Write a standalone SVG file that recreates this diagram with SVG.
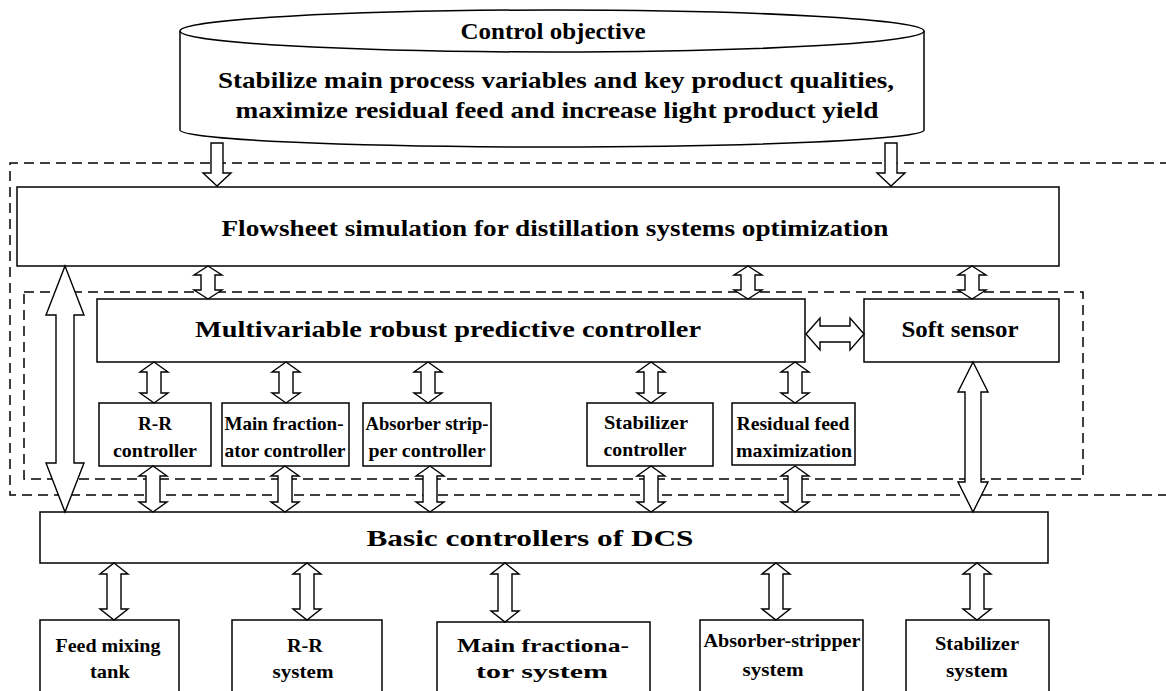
<svg xmlns="http://www.w3.org/2000/svg" width="1166" height="691" viewBox="0 0 1166 691">
<style>
  .box { fill: #fff; stroke: #000; stroke-width: 1.5; }
  .dash { fill: none; stroke: #000; stroke-width: 1.5; stroke-dasharray: 10 6; }
  .arr { fill: #fff; stroke: #000; stroke-width: 1.4; stroke-linejoin: miter; }
  .t { font-family: "Liberation Serif", "Times New Roman", serif; font-weight: bold; fill: #000; text-anchor: middle; }
  .big { font-size: 24px; }
  .sm { font-size: 19px; }
</style>
<rect width="1166" height="691" fill="#fff"/>

<g id="frames">
  <path class="dash" d="M1170,163 L10,163 L10,495 L1170,495"/>
  <rect class="dash" x="24" y="292" width="1059" height="187"/>
</g>

<g id="objective">
  <path class="box" d="M180,31 L180,130 A372,17 0 0 0 924,130 L924,31" stroke-width="3"/>
  <ellipse class="box" cx="552" cy="31" rx="372" ry="21" stroke-width="3"/>
  <text class="t big" x="553" y="39" textLength="185" lengthAdjust="spacingAndGlyphs">Control objective</text>
  <text class="t big" x="556" y="88" textLength="676" lengthAdjust="spacingAndGlyphs">Stabilize main process variables and key product qualities,</text>
  <text class="t big" x="557" y="118" textLength="643" lengthAdjust="spacingAndGlyphs">maximize residual feed and increase light product yield</text>
</g>

<g id="flowsheet">
  <rect class="box" x="17" y="187" width="1042" height="79"/>
  <text class="t big" x="555" y="236" textLength="667" lengthAdjust="spacingAndGlyphs">Flowsheet simulation for distillation systems optimization</text>
</g>

<g id="mpc">
  <rect class="box" x="97" y="299" width="708" height="63"/>
  <text class="t big" x="448" y="337" textLength="506" lengthAdjust="spacingAndGlyphs">Multivariable robust predictive controller</text>
</g>

<g id="softsensor">
  <rect class="box" x="864" y="299" width="195" height="63"/>
  <text class="t big" x="960" y="337" textLength="117" lengthAdjust="spacingAndGlyphs">Soft sensor</text>
</g>

<g id="rr-controller">
  <rect class="box" x="99" y="403" width="112" height="63"/>
  <text class="t sm" x="155" y="430" textLength="34" lengthAdjust="spacingAndGlyphs">R-R</text>
  <text class="t sm" x="155" y="457" textLength="84" lengthAdjust="spacingAndGlyphs">controller</text>
</g>
<g id="mf-controller">
  <rect class="box" x="222" y="403" width="127" height="63"/>
  <text class="t sm" x="284" y="430" textLength="119" lengthAdjust="spacingAndGlyphs">Main fraction-</text>
  <text class="t sm" x="285" y="457" textLength="121" lengthAdjust="spacingAndGlyphs">ator controller</text>
</g>
<g id="as-controller">
  <rect class="box" x="363" y="403" width="128" height="63"/>
  <text class="t sm" x="427" y="430" textLength="123" lengthAdjust="spacingAndGlyphs">Absorber strip-</text>
  <text class="t sm" x="427" y="457" textLength="117" lengthAdjust="spacingAndGlyphs">per controller</text>
</g>
<g id="stab-controller">
  <rect class="box" x="587" y="403" width="126" height="63"/>
  <text class="t sm" x="646" y="429" textLength="84" lengthAdjust="spacingAndGlyphs">Stabilizer</text>
  <text class="t sm" x="645" y="456" textLength="83" lengthAdjust="spacingAndGlyphs">controller</text>
</g>
<g id="residual">
  <rect class="box" x="732" y="403" width="123" height="62"/>
  <text class="t sm" x="793" y="430" textLength="113" lengthAdjust="spacingAndGlyphs">Residual feed</text>
  <text class="t sm" x="794" y="457" textLength="116" lengthAdjust="spacingAndGlyphs">maximization</text>
</g>

<g id="dcs">
  <rect class="box" x="40" y="512" width="1008" height="51"/>
  <text class="t big" x="530" y="546" textLength="327" lengthAdjust="spacingAndGlyphs">Basic controllers of DCS</text>
</g>

<g id="feed-tank">
  <rect class="box" x="40" y="620" width="139" height="80"/>
  <text class="t sm" x="108" y="652" textLength="105" lengthAdjust="spacingAndGlyphs">Feed mixing</text>
  <text class="t sm" x="110" y="678" textLength="40" lengthAdjust="spacingAndGlyphs">tank</text>
</g>
<g id="rr-system">
  <rect class="box" x="232" y="620" width="150" height="80"/>
  <text class="t sm" x="305" y="652" textLength="36" lengthAdjust="spacingAndGlyphs">R-R</text>
  <text class="t sm" x="303" y="678" textLength="61" lengthAdjust="spacingAndGlyphs">system</text>
</g>
<g id="mf-system">
  <rect class="box" x="437" y="622" width="213" height="80"/>
  <text class="t sm" x="543" y="652" textLength="172" lengthAdjust="spacingAndGlyphs">Main fractiona-</text>
  <text class="t sm" x="542" y="678" textLength="132" lengthAdjust="spacingAndGlyphs">tor system</text>
</g>
<g id="as-system">
  <rect class="box" x="700" y="620" width="163" height="80"/>
  <text class="t sm" x="782" y="647" textLength="157" lengthAdjust="spacingAndGlyphs">Absorber-stripper</text>
  <text class="t sm" x="773" y="676" textLength="61" lengthAdjust="spacingAndGlyphs">system</text>
</g>
<g id="stab-system">
  <rect class="box" x="906" y="620" width="143" height="80"/>
  <text class="t sm" x="977" y="650" textLength="84" lengthAdjust="spacingAndGlyphs">Stabilizer</text>
  <text class="t sm" x="977" y="677" textLength="62" lengthAdjust="spacingAndGlyphs">system</text>
</g>

<g id="connectors">
  <!-- objective down arrows -->
  <path class="arr" d="M211,143 L223,143 L223,173 L231,173 L217,186 L203,173 L211,173 Z"/>
  <path class="arr" d="M885,143 L897,143 L897,173 L905,173 L891,186 L877,173 L885,173 Z"/>
  <!-- flowsheet <-> mpc / soft sensor -->
  <path class="arr" d="M208,266 L222,275 L215,275 L215,290 L222,290 L208,299 L194,290 L201,290 L201,275 L194,275 Z"/>
  <path class="arr" d="M748,266 L762,275 L755,275 L755,290 L762,290 L748,299 L734,290 L741,290 L741,275 L734,275 Z"/>
  <path class="arr" d="M972,266 L986,275 L979,275 L979,290 L986,290 L972,299 L958,290 L965,290 L965,275 L958,275 Z"/>
  <!-- big left arrow -->
  <path class="arr" d="M65,266 L84,315 L74,315 L74,463 L84,463 L65,512 L46,463 L56,463 L56,315 L46,315 Z"/>
  <!-- soft sensor big arrow -->
  <path class="arr" d="M973,362 L988,392 L981,392 L981,482 L988,482 L973,512 L958,482 L965,482 L965,392 L958,392 Z"/>
  <!-- mpc <-> soft sensor -->
  <path class="arr" d="M806,334 L820,318 L820,326 L850,326 L850,318 L864,334 L850,350 L850,342 L820,342 L820,350 Z"/>
  <!-- mpc <-> small controllers -->
  <path class="arr" d="M154,362 L168,372 L161,372 L161,393 L168,393 L154,403 L140,393 L147,393 L147,372 L140,372 Z"/>
  <path class="arr" d="M286,362 L300,372 L293,372 L293,393 L300,393 L286,403 L272,393 L279,393 L279,372 L272,372 Z"/>
  <path class="arr" d="M428,362 L442,372 L435,372 L435,393 L442,393 L428,403 L414,393 L421,393 L421,372 L414,372 Z"/>
  <path class="arr" d="M651,362 L665,372 L658,372 L658,393 L665,393 L651,403 L637,393 L644,393 L644,372 L637,372 Z"/>
  <path class="arr" d="M795,362 L809,372 L802,372 L802,393 L809,393 L795,403 L781,393 L788,393 L788,372 L781,372 Z"/>
  <!-- small controllers <-> DCS -->
  <path class="arr" d="M153,466 L167,476 L160,476 L160,502 L167,502 L153,512 L139,502 L146,502 L146,476 L139,476 Z"/>
  <path class="arr" d="M285,466 L299,476 L292,476 L292,502 L299,502 L285,512 L271,502 L278,502 L278,476 L271,476 Z"/>
  <path class="arr" d="M430,466 L444,476 L437,476 L437,502 L444,502 L430,512 L416,502 L423,502 L423,476 L416,476 Z"/>
  <path class="arr" d="M651,466 L665,476 L658,476 L658,502 L665,502 L651,512 L637,502 L644,502 L644,476 L637,476 Z"/>
  <path class="arr" d="M795,466 L809,476 L802,476 L802,502 L809,502 L795,512 L781,502 L788,502 L788,476 L781,476 Z"/>
  <!-- DCS <-> systems -->
  <path class="arr" d="M114,563 L128,574 L121,574 L121,609 L128,609 L114,620 L100,609 L107,609 L107,574 L100,574 Z"/>
  <path class="arr" d="M307,563 L321,574 L314,574 L314,609 L321,609 L307,620 L293,609 L300,609 L300,574 L293,574 Z"/>
  <path class="arr" d="M505,563 L519,574 L512,574 L512,611 L519,611 L505,622 L491,611 L498,611 L498,574 L491,574 Z"/>
  <path class="arr" d="M776,563 L790,574 L783,574 L783,609 L790,609 L776,620 L762,609 L769,609 L769,574 L762,574 Z"/>
  <path class="arr" d="M977,563 L991,574 L984,574 L984,609 L991,609 L977,620 L963,609 L970,609 L970,574 L963,574 Z"/>
</g>
</svg>
